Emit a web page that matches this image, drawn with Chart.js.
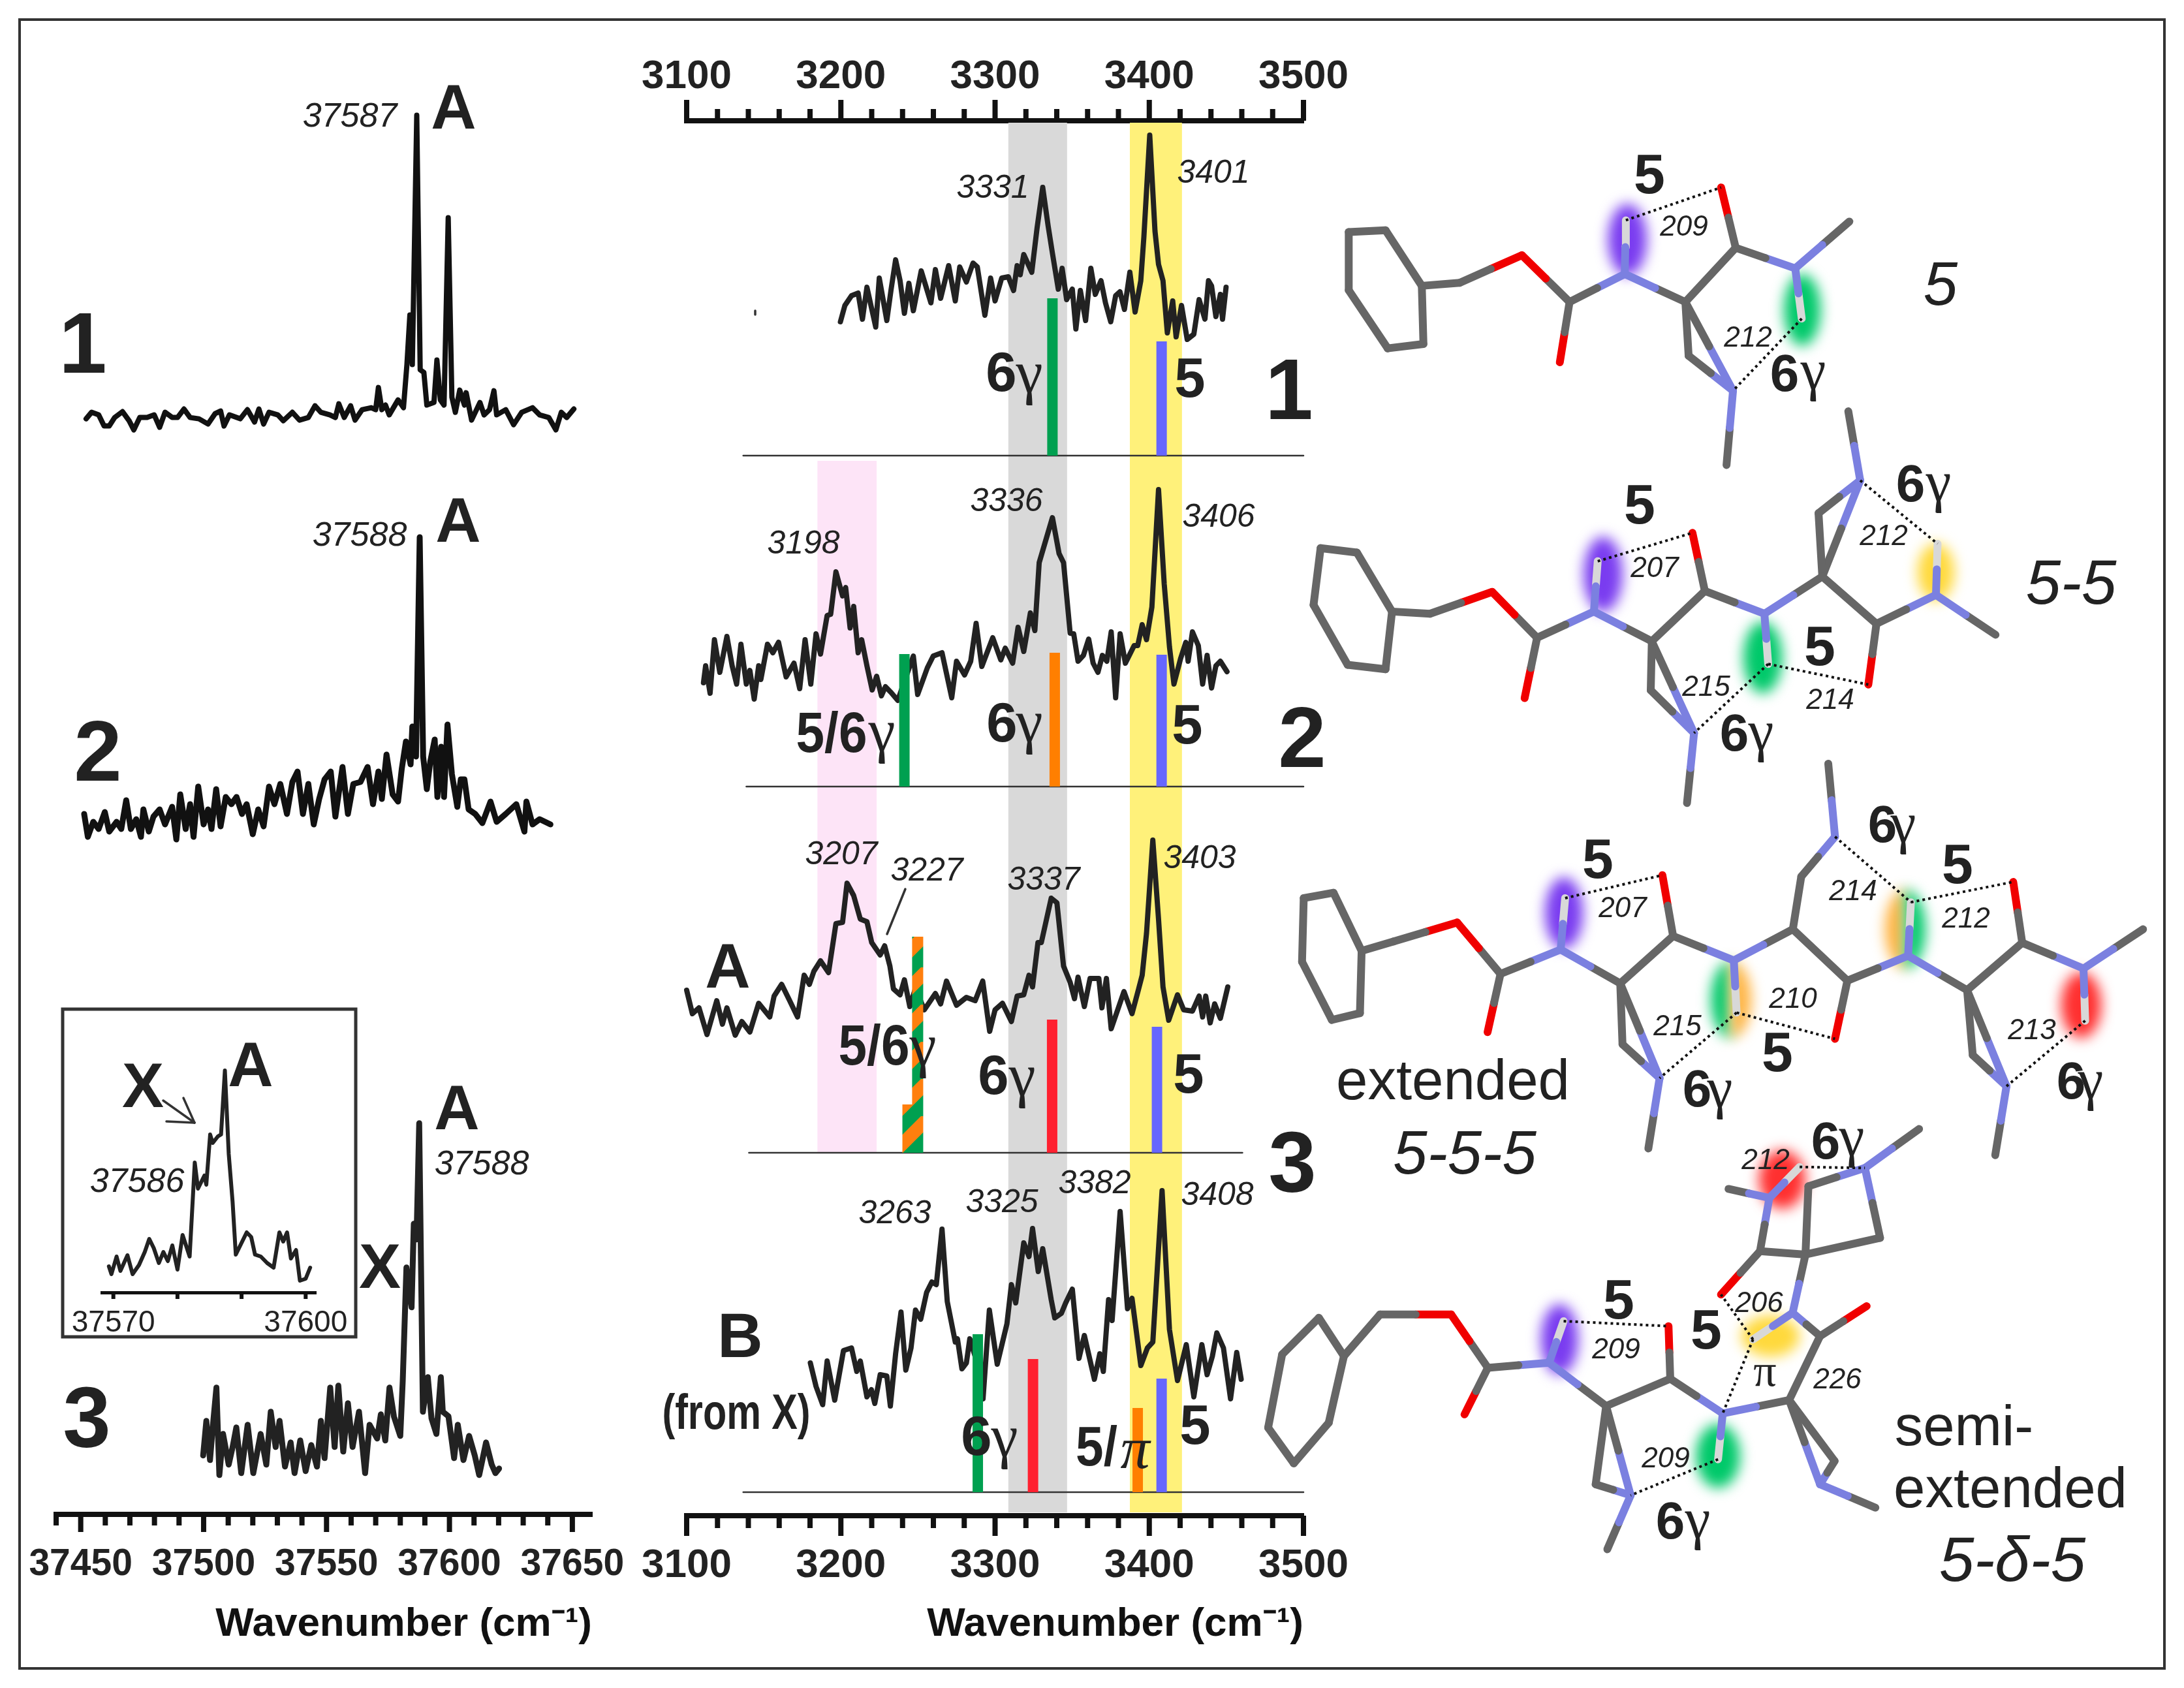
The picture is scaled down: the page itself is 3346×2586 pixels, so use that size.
<!DOCTYPE html>
<html><head><meta charset="utf-8">
<style>html,body{margin:0;padding:0;background:#fff;width:3346px;height:2586px;overflow:hidden}canvas{position:absolute;left:0;top:0}</style>
<script src="https://cdn.jsdelivr.net/npm/chart.js@4/dist/chart.umd.js"></script>
</head><body>
<canvas id="cIR" width="3346" height="2586"></canvas>
<canvas id="cLeft" width="3346" height="2586"></canvas>
<canvas id="cInset" width="3346" height="2586"></canvas>
<canvas id="cOver" width="3346" height="2586"></canvas>
<script>
// ---------- UV spectra (left panel): wavenumber, intensity above each baseline
const uv1Wn=[37452.2,37454.4,37457.3,37459.5,37461.6,37463.8,37467,37469.7,37471.6,37474,37477,37479.9,37482.1,37484.3,37487.2,37489.4,37492,37494.5,37498.1,37501.8,37504.7,37506.9,37508.3,37510.5,37514.9,37517.8,37520.7,37522.5,37524.4,37526.6,37530.2,37532.4,37536.1,37539,37542.6,37545.3,37547.7,37551.4,37553.6,37555,37557.2,37559.8,37561.6,37564.5,37568.2,37570,37571.1,37572.5,37574,37575.5,37579.1,37581.3,37582.7,37583.9,37584.9,37586.7,37588.1,37589.6,37590.8,37593.7,37594.9,37596.3,37597.8,37599.5,37601,37602.4,37604.2,37606.1,37606.8,37609,37612.4,37614.1,37616.3,37618.1,37619.2,37622.9,37626.1,37629.4,37633.8,37636.7,37640.4,37643.3,37645.5,37647.7,37650.6];
const uv1I=[-6,4,0,-17,-17,-4,5,-9,-23,-4,-4,0,-19,4,-4,-4,9,-4,-6,-14,2,6,-17,0,-6,8,-11,9,-14,4,0,-9,4,-8,-4,14,4,0,-4,17,-4,14,-8,8,11,8,42,8,15,0,23,11,77,153,77,459,69,65,15,19,84,23,15,302,27,4,38,15,34,-8,19,0,8,37,0,8,-15,4,11,0,-4,-23,4,-4,9];
const uv2Wn=[37451.4,37452.9,37455.1,37457.3,37459.8,37461.6,37464.6,37466.5,37468.5,37470.4,37472.6,37474.5,37475.5,37477.7,37479.6,37482.1,37484.3,37487.2,37488.9,37490.5,37492.7,37494.5,37495.9,37497.8,37500,37501.8,37503.2,37505.1,37506.9,37509,37511.3,37513.4,37515.6,37517.5,37520,37522.2,37524.4,37526.6,37528.8,37531.2,37533.9,37536.1,37538.2,37540.4,37542.6,37544.8,37547,37549.2,37551.7,37553.6,37556.5,37558.7,37560.9,37563.8,37566.7,37568.9,37571.1,37572.5,37574.4,37576.9,37579.1,37580.6,37582.3,37584.2,37584.9,37586.4,37587.9,37589.3,37590.8,37592.2,37594,37595.1,37596.6,37597.8,37599.2,37601,37603.2,37604.6,37606.1,37607.8,37610.5,37613.4,37616.7,37619.2,37622.9,37627.2,37630.5,37631.3,37633.8,37636.7,37641.1];
const uv2I=[8,-27,-4,-15,11,-19,-4,-15,29,-15,0,-27,15,-19,4,15,-8,19,-31,38,-15,23,-27,50,-8,15,-15,46,-11,34,23,34,8,23,-23,15,-11,50,23,54,8,57,73,8,54,-8,31,61,73,4,80,8,54,57,80,23,73,31,99,38,27,77,119,84,142,96,432,96,46,88,122,34,111,34,145,69,19,61,61,15,8,-6,27,-4,8,23,-19,27,-8,0,-8];
const uv3Wn=[37499.8,37501.1,37502.6,37503.8,37505.2,37506.4,37507.9,37510.2,37511.8,37513.3,37515.3,37517.9,37520.2,37523.2,37525.5,37527.3,37529.3,37530.9,37533.1,37535.4,37537,37539.3,37541.5,37543.8,37546.1,37547.7,37549.2,37551.5,37553.3,37554.8,37556.8,37558.7,37560.6,37563.2,37565.7,37567.5,37570.6,37572.1,37573.9,37575.6,37577.4,37580,37581,37582.5,37584.6,37585.5,37586.6,37587.7,37589.2,37591.2,37592.7,37594.7,37596.5,37597.3,37599.6,37601.9,37603.4,37605.7,37608,37610.3,37612.1,37614.9,37617.2,37618.7,37620.2];
const uv3I=[7,60,0,54,111,-23,40,-7,20,50,-20,54,-20,40,-7,74,20,60,-10,27,-20,30,-17,23,-10,60,3,111,20,114,13,87,20,74,-20,54,33,70,30,111,67,37,121,295,234,362,338,516,74,127,64,40,127,74,67,3,54,0,37,7,-23,27,-7,-20,-13];
const insetWn=[37569.3,37569.7,37570.5,37571.1,37572.2,37573,37574,37574.9,37575.6,37576.3,37577.1,37577.8,37578.5,37579.2,37580,37580.8,37581.9,37582.7,37583.2,37584.2,37584.5,37585.1,37585.5,37586.3,37586.8,37587.4,37588,37588.6,37589.1,37589.8,37590.8,37591.5,37592.1,37593,37594,37595,37595.9,37596.5,37597.1,37597.7,37598.5,37599.1,37600,37600.7];
const insetI=[40,28,55,33,57,28,42,62,82,68,45,62,48,72,35,88,55,199,159,179,165,242,229,239,242,340,212,139,58,72,92,85,58,55,45,38,92,78,92,52,65,18,21,38];
const insetLabels=[37570,37600];
// ---------- IR spectra (middle panel)
const ir1Wn=[3199.7,3202.6,3206.9,3211.2,3214,3216.9,3222.6,3224.9,3229.8,3232.6,3235.5,3238.4,3241.2,3244.1,3247,3252.1,3258.4,3261.3,3264.7,3269.9,3274.2,3277.1,3281.4,3285.7,3288.5,3293.4,3297.1,3300,3304.3,3308.6,3312,3314.3,3316.3,3318.6,3323.8,3327.2,3330.9,3334.4,3337.2,3341,3343.5,3346.4,3350.1,3352.4,3355.3,3358.7,3362.1,3365,3368.7,3371.6,3375,3378.2,3381,3383.9,3387.4,3390.8,3394.5,3396.5,3400.3,3403.7,3406,3408.9,3411.7,3415.2,3417.4,3420.9,3424.6,3428.9,3432.3,3436.1,3438.4,3440.4,3443.2,3446.1,3447.5,3449.8];
const ir1I=[205,230,245,249,209,258,197,272,207,255,300,268,218,264,222,283,234,285,241,291,237,289,266,295,289,215,272,237,272,274,253,291,277,308,281,348,411,352,310,255,287,239,255,194,253,207,287,247,268,234,205,245,251,224,281,220,268,335,491,344,293,268,188,237,182,230,178,186,239,209,268,260,213,247,209,258];
const ir2Wn=[3110.9,3112.3,3115.2,3118,3121.5,3126.1,3129.5,3132.4,3135.2,3138.7,3141,3143.8,3146.7,3148.1,3152.4,3155.9,3159.6,3164.5,3169.6,3173.3,3176.8,3180.5,3183.9,3186.8,3191.1,3193.4,3196.8,3201.1,3203.1,3206,3208.3,3211.2,3213.5,3216.9,3220.3,3223.2,3226.3,3228.9,3232.6,3236.9,3247,3249.8,3256.1,3259.9,3265.6,3271.9,3275,3280.2,3284.2,3287.7,3291.4,3295.1,3298.5,3303.7,3306.6,3311.4,3314.9,3318.6,3322.9,3325.8,3328.6,3337.2,3341.5,3344.4,3348.7,3351,3353.8,3357.3,3360.7,3363.6,3366.7,3369.6,3372.5,3375.3,3378.2,3381.1,3384.5,3390.2,3392.5,3395.4,3398.2,3401.7,3406,3409.7,3413.1,3416,3420.3,3423.7,3425.2,3428,3431.8,3434.6,3437.5,3440.4,3443.2,3446.1,3450.4];
const ir2I=[159,185,143,225,175,230,185,157,218,157,178,134,185,164,218,205,221,168,189,150,225,157,234,203,262,264,329,292,305,243,276,205,225,185,148,169,139,153,144,132,200,141,182,200,205,136,192,171,192,250,184,207,228,194,212,189,244,207,266,239,343,412,357,343,235,234,192,201,226,189,175,201,192,237,136,234,189,216,216,248,225,275,455,310,214,157,196,221,192,237,216,157,201,151,185,192,176];
const ir3Wn=[3100,3103.7,3108,3113.2,3119.5,3123.2,3126.1,3131.5,3135.8,3141,3146.7,3153.9,3156.7,3161.6,3166.8,3171.9,3176.2,3179.6,3182.5,3186.8,3192,3196.8,3201.1,3204,3208.3,3212.6,3216.9,3220,3225.5,3228.4,3231.8,3234.1,3238.4,3241.2,3244.7,3248.4,3254.1,3261.3,3264.7,3268.5,3275,3281.4,3287.1,3292,3296.5,3300,3304.8,3310.6,3314.3,3318.6,3322,3324.3,3327.8,3330,3336.4,3340.1,3344.4,3348.7,3351.5,3353.8,3357.9,3361.6,3367.3,3369.3,3372.2,3375.3,3383.6,3388.8,3393.1,3395.4,3398.2,3402.3,3406,3408.9,3412.6,3418.3,3422.3,3428,3432.3,3434.6,3436.6,3439.5,3442.4,3446.1,3450.9];
const ir3I=[249,213,222,181,233,197,222,180,201,185,229,208,240,258,233,208,272,258,278,294,276,351,353,413,394,358,354,322,303,317,286,251,242,265,224,252,219,244,228,263,226,238,233,263,186,219,229,201,240,242,272,254,322,322,390,383,286,261,236,269,224,267,267,222,267,190,247,213,251,272,336,479,358,254,203,242,219,217,240,208,240,199,228,206,254];
const ir4Wn=[3180.2,3183.9,3188.2,3191.1,3196,3201.7,3206.9,3210.3,3212.6,3216.9,3219.8,3222,3225.5,3229.8,3232.1,3235.5,3239,3242.1,3245.5,3248.4,3251.8,3255.6,3259,3261.9,3265.6,3269,3274.2,3275.6,3278.5,3281.4,3283.6,3287.1,3292.2,3296.3,3301.4,3307.7,3310.6,3313.4,3318.6,3322,3324.3,3328,3330.9,3336.4,3338.7,3343,3345.8,3350.1,3354.4,3357.9,3364.4,3367.9,3370.2,3373.6,3375.9,3381.1,3385.9,3388.8,3394.5,3398.8,3402.3,3408.3,3413.1,3418.3,3424,3428.9,3434.1,3437.5,3440.9,3443.8,3448.1,3452.7,3456.7,3459.6];
const ir4I=[198,162,134,201,141,217,221,185,201,146,157,136,180,178,132,212,276,187,221,279,265,306,322,318,403,292,230,235,189,198,235,208,143,279,196,258,318,290,382,361,404,338,373,295,267,274,290,311,205,240,173,212,185,295,263,430,281,297,194,221,230,462,249,171,226,146,226,180,208,244,221,143,214,173];
// ---------- assignment sticks
const ir1StickWn=[3337.2,3408], ir1StickH=[241,175], ir1StickCol=['#00a050','#6666ff'];
const ir2StickWn=[3241.2,3338.7,3408], ir2StickH=[203,205,202], ir2StickCol=['#00a050','#ff7f00','#6666ff'];
const ir3StickWn=[3337,3405], ir3StickH=[204,193], ir3StickCol=['#ff2030','#6666ff'];
const ir3StripedWn=[3249.8,3243.5], ir3StripedH=[331,74];
const ir4StickWn=[3288.8,3324.6,3392.5,3408], ir4StickH=[242,204,129,174], ir4StickCol=['#00a050','#ff2030','#ff7f00','#6666ff'];
const baselineSpans=[[3136.7,3500],[3138.7,3500],[3140.4,3460.4],[3136.7,3500]];
const bandRanges=[[3184.8,3223.2,'#fde4f7',706,1766],[3308.6,3346.7,'#d9d9d9',188,2317],[3387.4,3421.2,'#fff17a',188,2317]];
// ---------- baselines on the page (y position of each stacked spectrum)
const irBases=[698,1205,1766,2286], uvBases=[635.6,1255,2236.8];
const irAxisY=2322, uvAxisY=2320, insetAxisY=1980;
const irTicks=[3100,3500], uvRange=[37440,37658], insetRange=[37568.2,37601.6];
const INK='#222';
const SANS='"Liberation Sans"', SERIF='"Liberation Serif"';
Chart.defaults.font.family=SANS;

function series(wn,vals,off){return wn.map((x,i)=>({x,y:vals[i]+off}));}
function line(data,color,width,xId,extra){return Object.assign({type:'line',data,borderColor:color,borderWidth:width,pointRadius:0,tension:0,fill:false,clip:false,borderJoinStyle:'round',borderCapStyle:'round',xAxisID:xId,yAxisID:'y',animation:false},extra||{});}
function tickPlugin(conf){return {id:'tk',afterDraw(ch){const c=ch.ctx;for(const id in conf){const s=ch.scales[id],o=conf[id],top=s.position==='top',y0=top?s.bottom:s.top,d=top?-1:1;c.save();c.strokeStyle=o.color;c.lineWidth=o.width;for(const t of s.ticks){const x=s.getPixelForValue(t.value),len=(t.value%o.major===0)?o.majorLen:o.minorLen;c.beginPath();c.moveTo(x,y0);c.lineTo(x,y0+d*len);c.stroke();}c.restore();}}};}
function xAxis(pos,min,max,step,show,font,pad,h,extra){return Object.assign({type:'linear',position:pos,min,max,ticks:{stepSize:step,autoSkip:false,maxRotation:0,includeBounds:false,padding:pad,font,color:INK,callback:v=>(show(Math.round(v))?String(Math.round(v)):'')},grid:{display:false,drawTicks:false},border:{display:true,width:8,color:'#111'},afterFit:s=>{s.height=h;}},extra||{});}
const base={responsive:false,animation:false,devicePixelRatio:1,events:[],plugins:{legend:{display:false},tooltip:{enabled:false}}};
const titleOpt={display:true,text:'Wavenumber (cm⁻¹)',align:'end',color:'#111',font:{size:62,weight:'bold'},padding:0};

// striped stick pattern
function stripes(){const t=document.createElement('canvas');t.width=t.height=57;const c=t.getContext('2d');c.fillStyle='#00a050';c.fillRect(0,0,57,57);c.strokeStyle='#ff7f0e';c.lineWidth=20;for(let k=-1;k<3;k++){c.beginPath();c.moveTo(k*57,0);c.lineTo((k-1)*57,57);c.stroke();}return c.createPattern(t,'repeat');}
const stripe=stripes();

// ---------- IR chart
(function(){
 const ds=[];
 const stick=(wn,h,col,b,w)=>wn.forEach((x,i)=>ds.push(line([{x,y:irAxisY-b},{x,y:irAxisY-b+h[i]}],Array.isArray(col)?col[i]:col,w,'xBottom',{borderCapStyle:'butt'})));
 stick(ir1StickWn,ir1StickH,ir1StickCol,irBases[0],16);
 stick(ir2StickWn,ir2StickH,ir2StickCol,irBases[1],16);
 stick(ir3StickWn,ir3StickH,ir3StickCol,irBases[2],16);
 stick(ir3StripedWn,ir3StripedH,stripe,irBases[2],17);
 stick(ir4StickWn,ir4StickH,ir4StickCol,irBases[3],16);
 baselineSpans.forEach((sp,i)=>ds.push(line([{x:sp[0],y:irAxisY-irBases[i]},{x:sp[1],y:irAxisY-irBases[i]}],'#333',2.5,'xBottom')));
 [[ir1Wn,ir1I],[ir2Wn,ir2I],[ir3Wn,ir3I],[ir4Wn,ir4I]].forEach((t,i)=>ds.push(line(series(t[0],t[1],irAxisY-irBases[i]),INK,8,'xBottom')));
 const every100=v=>v%100===0;
 new Chart(document.getElementById('cIR'),{type:'line',data:{datasets:ds},options:Object.assign({},base,{
  layout:{autoPadding:false,padding:{left:1052,right:1349,top:0,bottom:60}},
  scales:{
   xTop:xAxis('top',irTicks[0],irTicks[1],20,every100,{size:62,weight:'bold'},30,185),
   xBottom:xAxis('bottom',irTicks[0],irTicks[1],20,every100,{size:62,weight:'bold'},40,204,{title:titleOpt}),
   y:{display:false,min:0,max:irAxisY-185}
  }}),
  plugins:[tickPlugin({xTop:{major:100,majorLen:32,minorLen:18,width:8,color:'#111'},xBottom:{major:100,majorLen:31,minorLen:19,width:8,color:'#111'}}),
  {id:'bands',beforeDatasetsDraw(ch){const c=ch.ctx,x=ch.scales.xBottom,y=ch.scales.y;bandRanges.forEach(b=>{const a=x.getPixelForValue(b[0]),e=x.getPixelForValue(b[1]),t=y.getPixelForValue(irAxisY-b[3]),u=y.getPixelForValue(irAxisY-b[4]);c.fillStyle=b[2];c.fillRect(a,t,e-a,u-t);});}}]
 });
})();

// ---------- UV chart
new Chart(document.getElementById('cLeft'),{type:'line',data:{datasets:[
  line(series(uv1Wn,uv1I,uvAxisY-uvBases[0]),'#111',8,'x'),
  line(series(uv2Wn,uv2I,uvAxisY-uvBases[1]),'#111',9,'x'),
  line(series(uv3Wn,uv3I,uvAxisY-uvBases[2]),INK,9,'x')]},
 options:Object.assign({},base,{layout:{autoPadding:false,padding:{left:86,right:3346-907,top:0,bottom:60}},
  scales:{x:xAxis('bottom',uvRange[0],uvRange[1],10,v=>v%50===0,{size:57,weight:'bold'},43,206,{title:titleOpt}),y:{display:false,min:0,max:uvAxisY}}}),
 plugins:[tickPlugin({x:{major:50,majorLen:27,minorLen:17,width:8,color:'#111'}})]});

// ---------- Inset chart
new Chart(document.getElementById('cInset'),{type:'line',data:{datasets:[line(series(insetWn,insetI,0),INK,6,'x')]},
 options:Object.assign({},base,{layout:{autoPadding:false,padding:{left:156,right:3346-484,top:1545,bottom:0}},
  scales:{x:xAxis('bottom',insetRange[0],insetRange[1],10,v=>insetLabels.includes(v),{size:46,weight:'normal'},20,2586-insetAxisY,{border:{display:true,width:5,color:'#111'}}),y:{display:false,min:0,max:insetAxisY-1545}}}),
 plugins:[tickPlugin({x:{major:10,majorLen:10,minorLen:10,width:6,color:'#111'}})]});

// ---------- molecules (tube models), in zoom-space coordinates with a page mapping
const COL={C:'#666666',N:'#7b80e0',O:'#f00000',H:'#d8d8d8'};
const mol1={map:[2000,1.206,180,1.493],atoms:{a:[80,262,'C'],b:[148,258,'C'],c:[215,385,'C'],d:[218,518,'C'],e:[152,528,'C'],f:[80,395,'C'],g:[285,378,'C'],h:[400,315,'O'],i:[488,422,'C'],j:[470,560,'O'],k:[590,358,'N'],l:[592,235,'H'],m:[702,422,'C'],n:[795,298,'C'],o:[768,160,'O'],p:[905,345,'N'],q:[1005,238,'C'],r:[917,460,'H'],s:[708,545,'C'],t:[790,625,'N'],u:[778,795,'C']},
 bonds:'a-b b-c c-d d-e e-f f-a c-g g-h h-i i-j i-k k-l k-m m-n n-o n-p p-q p-r m-s s-t m-t t-u',hb:'l-o r-t',
 glow:[[595,280,36,82,'#7a3cf0'],[918,440,34,82,'#00c96a']]};
const mol2={map:[2000,1.206,180,1.493],atoms:{a:[28,985,'C'],b:[95,995,'C'],c:[160,1130,'C'],d:[148,1262,'C'],e:[78,1252,'C'],f:[15,1115,'C'],g:[230,1135,'C'],h:[345,1085,'O'],i:[428,1190,'C'],j:[405,1328,'O'],k:[533,1130,'N'],l:[540,1015,'H'],m:[640,1198,'C'],n:[738,1083,'C'],o:[715,950,'O'],p:[848,1135,'N'],q:[855,1250,'H'],r:[955,1050,'C'],s:[638,1310,'C'],t:[718,1408,'N'],u:[705,1568,'C'],v:[948,905,'C'],w:[1025,830,'N'],x:[1003,672,'C'],y:[1055,1158,'C'],z:[1040,1297,'O'],aa:[1165,1092,'N'],ab:[1168,975,'H'],ac:[1275,1183,'C']},
 bonds:'a-b b-c c-d d-e e-f f-a c-g g-h h-i i-j i-k k-l k-m m-n n-o n-p p-q p-r m-s s-t m-t t-u r-v v-w r-w w-x r-y y-z y-aa aa-ab aa-ac',hb:'l-o q-t q-z w-ab',
 glow:[[550,1045,36,86,'#7a3cf0'],[845,1235,36,82,'#00c96a'],[1165,1040,34,66,'#ffd93c']]};
const mol3={map:[1950,1.161,1150,2.412],atoms:{a:[55,545,'C'],b:[108,525,'C'],c:[158,740,'C'],d:[155,970,'C'],e:[105,995,'C'],f:[52,780,'C'],g:[215,705,'C'],h:[328,635,'O'],i:[405,825,'C'],j:[382,1040,'O'],k:[512,735,'N'],l:[520,545,'H'],m:[618,860,'C'],n:[712,685,'C'],o:[693,460,'O'],p:[820,775,'N'],q:[825,968,'H'],s:[622,1085,'C'],t:[688,1210,'N'],u:[668,1470,'C'],r:[925,660,'C'],v:[940,465,'C'],w:[1000,318,'N'],x:[988,48,'C'],y:[1022,850,'C'],z:[1000,1065,'O'],aa:[1130,758,'N'],ab:[1135,560,'H'],ac:[1235,885,'C'],ad:[1333,710,'C'],ae:[1317,485,'O'],af:[1442,805,'N'],ag:[1548,660,'C'],ah:[1445,998,'H'],ai:[1245,1125,'C'],aj:[1305,1240,'N'],ak:[1285,1495,'C']},
 bonds:'a-b b-c c-d d-e e-f f-a c-g g-h h-i i-j i-k k-l k-m m-n n-o n-p p-q m-s s-t m-t t-u p-r r-v v-w w-x r-y y-z y-aa aa-ab aa-ac ac-ad ad-ae ad-af af-ag af-ah ac-ai ai-aj ac-aj aj-ak',hb:'l-o q-t q-z w-ab ab-ae ah-aj',
 glow:[[518,600,34,132,'#7a3cf0'],[815,920,36,142,'#00c96a','#ffb340'],[1125,660,36,147,'#ffb340','#00c96a'],[1438,940,36,122,'#ff3030']]};
const mol4={map:[1900,1.12,1700,1.96],atoms:{a:[72,735,'C'],b:[135,625,'C'],c:[178,740,'C'],d:[152,940,'C'],e:[92,1062,'C'],f:[48,955,'C'],g:[240,615,'C'],h:[362,615,'O'],i:[425,775,'C'],j:[385,915,'O'],k:[530,760,'N'],l:[555,635,'H'],m:[628,890,'C'],n:[738,808,'C'],o:[735,650,'O'],p:[828,912,'N'],q:[820,1050,'H'],s:[610,1125,'C'],t:[670,1158,'N'],u:[630,1320,'C'],r:[942,872,'C'],v:[995,680,'C'],w:[1075,590,'O'],x:[948,610,'N'],y:[880,690,'H'],z:[970,435,'C'],aa:[892,425,'C'],ab:[825,555,'O'],ac:[908,265,'N'],ad:[838,238,'C'],ae:[960,172,'H'],af:[1098,385,'C'],aj:[975,230,'C'],ah:[1072,175,'N'],ai:[1165,58,'C'],al:[1020,1055,'C'],am:[995,1125,'N'],an:[1090,1195,'C']},
 bonds:'a-b b-c c-d d-e e-f f-a c-g g-h h-i i-j i-k k-l k-m m-n n-o n-p p-q m-s s-t m-t t-u p-r r-v v-w v-x x-y x-z z-aa aa-ab aa-ac ac-ad ac-ae z-af af-ah z-aj aj-ah ah-ai r-al r-am al-am am-an',hb:'l-o q-t y-ab y-p ae-ah',
 glow:[[548,690,32,106,'#7a3cf0'],[820,1040,38,96,'#00c96a'],[910,680,50,62,'#ffd93c'],[930,210,40,88,'#ff3030']]};
const molecules=[mol1,mol2,mol3,mol4];
const mx=(m,x)=>m.map[0]+x/m.map[1], my=(m,y)=>m.map[2]+y/m.map[3];

// ---------- free-standing lines on the page
const pageLines=[[[250,1686],[298,1720]],[[255,1718],[298,1720]],[[281,1682],[298,1720]],[[1387,1362],[1359,1431]],[[1157,476],[1157,482]]];
const frame=[[30,30,3286,2526,4],[96,1546,449,502,5]];

// ---------- text
const T=[];
const add=(s,x,y,f,sx)=>T.push([s,x,y,f,sx||1]);
const bold=n=>`bold ${n}px ${SANS}`, ital=n=>`italic ${n}px ${SANS}`, reg=n=>`${n}px ${SANS}`, gam=n=>`${n}px ${SERIF}`;
const six=(x,y,gx,gy,n)=>{add('6',x,y,bold(n));add('γ',gx,gy-n*0.22,gam(n+8));};
[['1',127,527],['2',150,1152],['3',133,2173],['1',1975,598],['2',1995,1131],['3',1980,1782]].forEach(a=>add(a[0],a[1],a[2],bold(132)));
[['A',695,165],['A',702,798],['A',700,1698],['X',582,1941],['X',219,1664],['A',384,1632],['A',1115,1481],['B',1134,2047]].forEach(a=>add(a[0],a[1],a[2],bold(96)));
[['37587',536,176],['37588',551,818],['37588',738,1781],['37586',210,1808]].forEach(a=>add(a[0],a[1],a[2],ital(52)));
[['3331',1521,286],['3401',1859,263],['3198',1231,831],['3336',1542,766],['3406',1867,790],['3207',1289,1307],['3227',1420,1332],['3337',1599,1346],['3403',1838,1313],['3263',1371,1857],['3325',1535,1840],['3382',1677,1811],['3408',1865,1829]].forEach(a=>add(a[0],a[1],a[2],ital(50)));
add('(from X)',1128,2163,bold(76),0.78);
six(1534,570,1577,590,85);six(1535,1107,1577,1125,85);six(1522,1647,1566,1667,85);six(1496,2200,1539,2220,85);
add('5/6',1274,1123,bold(87),0.9);add('γ',1351,1120,gam(93));
add('5/6',1339,1602,bold(87),0.9);add('γ',1414,1602,gam(93));
add('5/',1680,2216,bold(85),0.9);add('π',1739,2220,`italic 90px ${SERIF}`);
[['5',1823,579],['5',1819,1110],['5',1821,1645],['5',1831,2183]].forEach(a=>add(a[0],a[1],a[2],bold(85)));
// molecule annotations
[['5',2527,267],['5',2512,773],['5',2788,990],['5',2448,1316],['5',2723,1612],['5',2999,1324],['5',2480,1991],['5',2614,2037]].forEach(a=>add(a[0],a[1],a[2],bold(86)));
[['209',2580,346],['212',2678,516],['207',2535,869],['215',2614,1051],['214',2804,1071],['212',2886,820],['207',2486,1390],['215',2570,1571],['210',2747,1529],['214',2839,1364],['212',3012,1406],['213',3113,1577],['209',2476,2066],['206',2695,1995],['226',2815,2112],['209',2552,2233],['212',2705,1776]].forEach(a=>add(a[0],a[1],a[2],ital(44)));
six(2734,572,2778,585,80);six(2927,741,2970,756,80);six(2657,1123,2698,1138,80);six(2600,1668,2635,1685,80);six(2884,1263,2916,1279,80);six(3173,1656,3203,1672,80);six(2559,2330,2601,2345,80);six(2797,1748,2837,1759,80);
add('π',2704,2100,gam(70));
add('5',2973,435,ital(94));add('5-5',3173,893,ital(96));add('5-5-5',2244,1766,ital(94));add('5-δ-5',3083,2390,ital(96));
add('extended',2226,1655,reg(87));add('semi-',3009,2185,reg(87));add('extended',3080,2280,reg(87));

// ---------- overlay chart
(function(){
 const ds=[];
 pageLines.forEach(l=>ds.push(line(l.map(p=>({x:p[0],y:p[1]})),'#333',3.5,'x')));
 molecules.forEach(m=>{
  const P=k=>{const a=m.atoms[k];return {x:mx(m,a[0]),y:my(m,a[1]),t:a[2]};};
  m.hb.split(' ').forEach(b=>{const [p,q]=b.split('-').map(P);ds.push(line([{x:p.x,y:p.y},{x:q.x,y:q.y}],'#111',4,'x',{borderDash:[4,5],borderCapStyle:'butt'}));});
  m.bonds.split(' ').forEach(b=>{const [p,q]=b.split('-').map(P);const mid={x:(p.x+q.x)/2,y:(p.y+q.y)/2};
   if(p.t===q.t){ds.push(line([{x:p.x,y:p.y},{x:q.x,y:q.y}],COL[p.t],12,'x'));}
   else{ds.push(line([{x:p.x,y:p.y},mid],COL[p.t],12,'x'));ds.push(line([mid,{x:q.x,y:q.y}],COL[q.t],12,'x'));}});
 });
 new Chart(document.getElementById('cOver'),{type:'line',data:{datasets:ds},options:Object.assign({},base,{layout:{autoPadding:false,padding:0},
  scales:{x:{type:'linear',display:false,min:0,max:3346},y:{type:'linear',display:false,min:0,max:2586,reverse:true}}}),
  plugins:[{id:'glow',beforeDatasetsDraw(ch){const c=ch.ctx;c.save();
    frame.forEach(f=>{c.strokeStyle='#333';c.lineWidth=f[4];c.strokeRect(f[0],f[1],f[2],f[3]);});
    c.filter='blur(10px)';
    molecules.forEach(m=>m.glow.forEach(g=>{const x=mx(m,g[0]),y=my(m,g[1]),rx=g[2]/m.map[1],ry=g[3]/m.map[3];
     if(g[5]){c.fillStyle=g[4];c.beginPath();c.ellipse(x,y,rx,ry,0,Math.PI/2,Math.PI*1.5);c.fill();c.fillStyle=g[5];c.beginPath();c.ellipse(x,y,rx,ry,0,-Math.PI/2,Math.PI/2);c.fill();}
     else{c.fillStyle=g[4];c.beginPath();c.ellipse(x,y,rx,ry,0,0,Math.PI*2);c.fill();}}));
    c.restore();},
   afterDatasetsDraw(ch){const c=ch.ctx;c.save();c.fillStyle=INK;c.textAlign='center';c.textBaseline='middle';
    T.forEach(t=>{const fs=parseFloat(t[3].match(/(\d+)px/)[1]);c.save();c.font=t[3];c.translate(t[1],t[2]+fs*0.06);c.scale(t[4],1);c.fillText(t[0],0,0);c.restore();});c.restore();}}]
 });
})();
</script>
</body></html>
